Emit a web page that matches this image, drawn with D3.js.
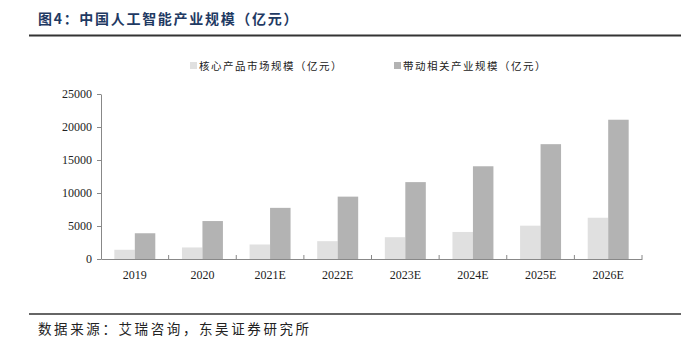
<!DOCTYPE html>
<html>
<head>
<meta charset="utf-8">
<script src="https://cdn.jsdelivr.net/npm/d3@7"></script>
<style>
  body { margin: 0; background: #fff; }
  svg { display: block; }
</style>
</head>
<body>
<svg id="chart"></svg>
<script>
// data
var categories = ['2019', '2020', '2021E', '2022E', '2023E', '2024E', '2025E', '2026E'];
var coreValues = [1400, 1750, 2200, 2700, 3300, 4100, 5050, 6250];
var relatedValues = [3900, 5750, 7750, 9450, 11650, 14050, 17400, 21100];
var seriesNames = ['核心产品市场规模（亿元）', '带动相关产业规模（亿元）'];
var yTicks = [0, 5000, 10000, 15000, 20000, 25000];

var colors = ['#e0e0e0', '#b3b3b3'];

var W = 681, H = 351;
var margin = { top: 94, right: 39, bottom: 92, left: 101 },
  width = W - margin.left - margin.right,
  height = H - margin.top - margin.bottom;

var root = d3.select('#chart').attr('width', W).attr('height', H);

// title and rules
root.append('text')
  .attr('x', 38).attr('y', 24)
  .attr('font-family', 'Noto Sans CJK SC')
  .attr('font-weight', 'bold')
  .attr('font-size', 14)
  .attr('letter-spacing', 1.7)
  .attr('fill', '#1f3a63')
  .text('图4：中国人工智能产业规模（亿元）');

root.append('line')
  .attr('x1', 29).attr('x2', W).attr('y1', 35.5).attr('y2', 35.5)
  .attr('stroke', '#333').attr('stroke-width', 2);

root.append('line')
  .attr('x1', 29).attr('x2', W).attr('y1', 314).attr('y2', 314)
  .attr('stroke', '#333').attr('stroke-width', 1.5);

root.append('text')
  .attr('x', 38).attr('y', 334)
  .attr('font-family', 'Noto Sans CJK SC')
  .attr('font-size', 13.5)
  .attr('letter-spacing', 2.6)
  .attr('fill', '#222')
  .text('数据来源：艾瑞咨询，东吴证券研究所');

// legend
var legendX = [190, 394];
seriesNames.forEach(function (name, i) {
  root.append('rect')
    .attr('x', legendX[i]).attr('y', 62)
    .attr('width', 7).attr('height', 7)
    .attr('fill', colors[i]);
  root.append('text')
    .attr('x', legendX[i] + 9).attr('y', 69.5)
    .attr('font-family', 'Noto Sans CJK SC')
    .attr('font-size', 10.5)
    .attr('letter-spacing', 1.5)
    .attr('fill', '#222')
    .text(name);
});

var svg = root.append('g')
  .attr('transform', 'translate(' + margin.left + ',' + margin.top + ')');

var x = d3.scaleBand().domain(categories).range([0, width]).paddingInner(0).paddingOuter(0);
var inner = d3.scaleBand().domain([0, 1]).range([0, x.bandwidth()]).paddingOuter(0.65).paddingInner(0);
var y = d3.scaleLinear().domain([0, 25000]).range([height, 0]);

var data = categories.map(function (c, i) {
  return { cat: c, vals: [coreValues[i], relatedValues[i]] };
});

var groups = svg.selectAll('.grp')
  .data(data)
  .enter()
  .append('g')
  .attr('class', 'grp')
  .attr('transform', function (d) { return 'translate(' + x(d.cat) + ',0)'; });

groups.selectAll('rect')
  .data(function (d) { return d.vals; })
  .enter()
  .append('rect')
  .attr('x', function (v, j) { return inner(j); })
  .attr('width', inner.bandwidth())
  .attr('y', function (v) { return y(v); })
  .attr('height', function (v) { return height - y(v); })
  .attr('fill', function (v, j) { return colors[j]; });

// y axis
var yAxis = svg.append('g')
  .call(d3.axisLeft(y).tickValues(yTicks).tickSize(4).tickSizeOuter(0).tickFormat(d3.format('d')));
yAxis.select('.domain').attr('stroke', '#888');
yAxis.selectAll('.tick line').attr('stroke', '#888');
yAxis.selectAll('text')
  .attr('font-family', 'Liberation Serif')
  .attr('font-size', 12)
  .attr('fill', '#222')
  .attr('x', -9);

// x axis with ticks between categories
var xAxis = svg.append('g')
  .attr('transform', 'translate(0,' + height + ')')
  .call(d3.axisBottom(x).tickSize(0).tickSizeOuter(0));
xAxis.select('.domain').attr('stroke', '#888');
xAxis.selectAll('text')
  .attr('font-family', 'Liberation Serif')
  .attr('font-size', 12)
  .attr('fill', '#222')
  .attr('dy', '1.45em');

svg.append('g')
  .selectAll('line')
  .data(categories)
  .enter()
  .append('line')
  .attr('x1', function (d) { return x(d) + x.bandwidth(); })
  .attr('x2', function (d) { return x(d) + x.bandwidth(); })
  .attr('y1', height)
  .attr('y2', height - 4)
  .attr('stroke', '#888');
</script>
</body>
</html>
